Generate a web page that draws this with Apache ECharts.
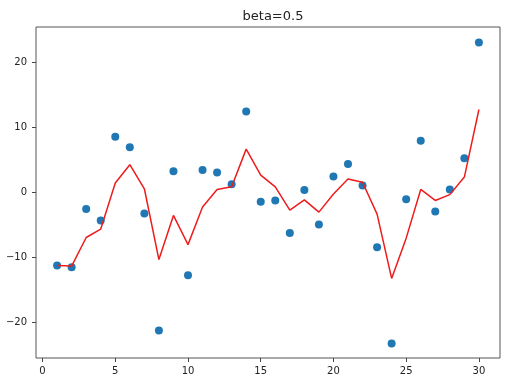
<!DOCTYPE html>
<html>
<head>
<meta charset="utf-8">
<script src="https://cdn.jsdelivr.net/npm/echarts@6/dist/echarts.min.js"></script>
<style>
  html, body { margin: 0; padding: 0; background: #fff; }
  #chart { width: 528px; height: 388px; }
</style>
</head>
<body>
<div id="chart"></div>
<script>
// Data
const xValues = [1,2,3,4,5,6,7,8,9,10,11,12,13,14,15,16,17,18,19,20,21,22,23,24,25,26,27,28,29,30];
const pointValues = [-11.2,-11.5,-2.5,-4.3,8.6,7.0,-3.2,-21.2,3.3,-12.7,3.5,3.1,1.3,12.5,-1.4,-1.2,-6.2,0.4,-4.9,2.5,4.4,1.1,-8.4,-23.2,-1.0,8.0,-2.9,0.5,5.3,23.1];
const lineValues = [-11.2,-11.3,-6.9,-5.6,1.5,4.3,0.6,-10.3,-3.5,-8.0,-2.2,0.5,0.9,6.7,2.7,0.9,-2.7,-1.1,-3.0,-0.2,2.1,1.6,-3.3,-13.2,-7.0,0.5,-1.2,-0.3,2.4,12.8];
const xTicks = [0,5,10,15,20,25,30];
const yTicks = [-20,-10,0,10,20];
const titleText = 'beta=0.5';

const chart = echarts.init(document.getElementById('chart'), null, {renderer: 'canvas'});
const font = 'DejaVu Sans';
const fmt = v => String(v).replace('-', '\u2212');
chart.setOption({
  animation: false,
  backgroundColor: '#ffffff',
  title: {
    text: titleText, left: 268, top: 5, textAlign: 'center',
    textStyle: { fontFamily: font, fontSize: 13, fontWeight: 'normal', color: '#222' }
  },
  grid: {
    left: 36, right: 28, top: 27, bottom: 30,
    show: true, borderColor: '#555', borderWidth: 1, backgroundColor: 'transparent'
  },
  xAxis: {
    type: 'value', min: -0.45, max: 31.45,
    axisLine: { show: false, onZero: false },
    splitLine: { show: false },
    axisTick: { show: true, inside: false, length: 4, lineStyle: { color: '#444' }, customValues: xTicks },
    axisLabel: { customValues: xTicks, formatter: fmt, fontFamily: font, fontSize: 10, color: '#222', margin: 8 }
  },
  yAxis: {
    type: 'value', min: -25.45, max: 25.5,
    axisLine: { show: false, onZero: false },
    splitLine: { show: false },
    axisTick: { show: true, inside: false, length: 4, lineStyle: { color: '#444' }, customValues: yTicks },
    axisLabel: { customValues: yTicks, formatter: fmt, fontFamily: font, fontSize: 10, color: '#222', margin: 9 }
  },
  series: [
    {
      type: 'scatter', symbolSize: 8, z: 2,
      itemStyle: { color: '#1f77b4', opacity: 1 },
      data: xValues.map((x, i) => [x, pointValues[i]])
    },
    {
      type: 'line', showSymbol: false, symbol: 'none', z: 3,
      lineStyle: { color: '#ee1c1c', width: 1.5 },
      data: xValues.map((x, i) => [x, lineValues[i]])
    }
  ]
});
</script>
</body>
</html>
